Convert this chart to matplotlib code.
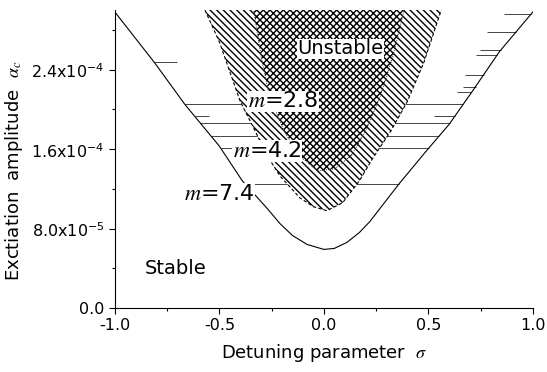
import numpy as np
import matplotlib
matplotlib.use('Agg')
import matplotlib.pyplot as plt

plt.rcParams['mathtext.fontset'] = 'stix'
plt.rcParams['hatch.linewidth'] = 1.0

# outer boundary (m = 7.4)
sig_out = [-1.0, -0.81, -0.665, -0.50, -0.39, -0.27, -0.21, -0.15, -0.08, 0.0, 0.05, 0.11, 0.17, 0.22,
           0.36, 0.49, 0.60, 0.71, 0.84, 1.0]
a_out = [2.98e-4, 2.47e-4, 2.05e-4, 1.63e-4, 1.28e-4, 1.00e-4, 0.85e-4, 0.73e-4, 0.64e-4, 0.59e-4,
         0.60e-4, 0.66e-4, 0.76e-4, 0.87e-4, 1.25e-4, 1.58e-4, 1.85e-4, 2.18e-4, 2.58e-4, 2.98e-4]

# m = 4.2 region boundary
sig_42 = [-0.58, -0.50, -0.45, -0.40, -0.34, -0.27, -0.21, -0.115, -0.05, 0.015, 0.09, 0.17, 0.235,
          0.32, 0.40, 0.48, 0.57]
a_42 = [3.05e-4, 2.68e-4, 2.38e-4, 2.08e-4, 1.83e-4, 1.53e-4, 1.33e-4, 1.11e-4, 1.02e-4, 0.98e-4,
        1.06e-4, 1.28e-4, 1.51e-4, 1.78e-4, 2.08e-4, 2.48e-4, 3.05e-4]

# m = 2.8 region boundary
sig_28 = [-0.34, -0.30, -0.26, -0.19, -0.115, -0.03, 0.05, 0.13, 0.20, 0.27, 0.33, 0.39]
a_28 = [3.05e-4, 2.53e-4, 2.13e-4, 1.78e-4, 1.53e-4, 1.38e-4, 1.40e-4, 1.53e-4, 1.78e-4, 2.13e-4,
        2.53e-4, 3.05e-4]

# remains of the horizontal hatching of the m = 7.4 region
hatch_full = [2.05e-4, 1.86e-4, 1.73e-4, 1.61e-4, 1.25e-4]
hatch_right = [2.96e-4, 2.78e-4, 2.60e-4, 2.55e-4, 2.35e-4, 2.23e-4, 2.17e-4, 1.93e-4]
hatch_right_len = [0.13, 0.14, 0.10, 0.10, 0.09, 0.06, 0.07, 0.10]
hatch_left = [2.48e-4, 1.93e-4]
hatch_left_len = [0.11, 0.07]

xticks = [-1.0, -0.5, 0.0, 0.5, 1.0]
xlabels = ['-1.0', '-0.5', '0.0', '0.5', '1.0']
yticks = [0.0, 8.0e-5, 1.6e-4, 2.4e-4]
ylabels = ['0.0', '8.0x10$^{\\mathregular{-5}}$', '1.6x10$^{\\mathregular{-4}}$', '2.4x10$^{\\mathregular{-4}}$']

fig = plt.figure(figsize=[5.47, 3.72], dpi=100)
ax = fig.add_axes([0.21, 0.172, 0.764, 0.801])

sig_out = np.array(sig_out)
a_out = np.array(a_out)
imin = np.argmin(a_out)
left_s, left_a = sig_out[:imin + 1][::-1], a_out[:imin + 1][::-1]
right_s, right_a = sig_out[imin:], a_out[imin:]

def x_left(a):
    return np.interp(a, left_a, left_s)

def x_right(a):
    return np.interp(a, right_a, right_s)

for lv in hatch_full:
    ax.hlines(lv, x_left(lv), x_right(lv), color='0.15', lw=0.6, zorder=1)
for lv, ln in zip(hatch_right, hatch_right_len):
    ax.hlines(lv, x_right(lv) - ln, x_right(lv), color='0.15', lw=0.6, zorder=1)
for lv, ln in zip(hatch_left, hatch_left_len):
    ax.hlines(lv, x_left(lv), x_left(lv) + ln, color='0.15', lw=0.6, zorder=1)

ax.plot(sig_out, a_out, color='k', lw=0.8, zorder=3)

ax.fill(sig_42, a_42, facecolor='white', edgecolor='k', hatch='\\' * 5, lw=0, zorder=2)
ax.plot(sig_42, a_42, color='k', lw=0.8, ls=(0, (3, 2)), zorder=3)
ax.fill(sig_28, a_28, facecolor='white', edgecolor='k', hatch='x' * 5, lw=0, zorder=2.5)
ax.plot(sig_28, a_28, color='k', lw=0.6, ls=(0, (1, 1.5)), zorder=3)

box = dict(facecolor='white', edgecolor='none', pad=0.5)
ax.text(0.08, 2.61e-4, 'Unstable', fontsize=14, ha='center', va='center', bbox=box, zorder=5)
ax.text(-0.195, 2.08e-4, '$m$=2.8', fontsize=16, ha='center', va='center', bbox=box, zorder=5)
ax.text(-0.27, 1.58e-4, '$m$=4.2', fontsize=16, ha='center', va='center', bbox=box, zorder=5)
ax.text(-0.50, 1.15e-4, '$m$=7.4', fontsize=16, ha='center', va='center', bbox=box, zorder=5)
ax.text(-0.71, 0.40e-4, 'Stable', fontsize=14, ha='center', va='center')

ax.set_xlim(-1.0, 1.0)
ax.set_ylim(0, 3.0e-4)
ax.spines['top'].set_visible(False)
ax.spines['right'].set_visible(False)
ax.set_xticks(xticks)
ax.set_xticklabels(xlabels)
ax.set_xticks([-0.75, -0.25, 0.25, 0.75], minor=True)
ax.set_yticks(yticks)
ax.set_yticklabels(ylabels)
ax.set_yticks([4e-5, 1.2e-4, 2.0e-4, 2.8e-4], minor=True)
ax.tick_params(labelsize=11.5, length=4, width=0.8)
ax.tick_params(which='minor', length=2.5, width=0.8)

ax.set_xlabel('Detuning parameter  $\\sigma$', fontsize=13, labelpad=6)
ax.set_ylabel('Exctiation  amplitude  $\\alpha_c$', fontsize=13)
ax.yaxis.set_label_coords(-0.215, 0.46)

plt.savefig('out.png', dpi=100)
